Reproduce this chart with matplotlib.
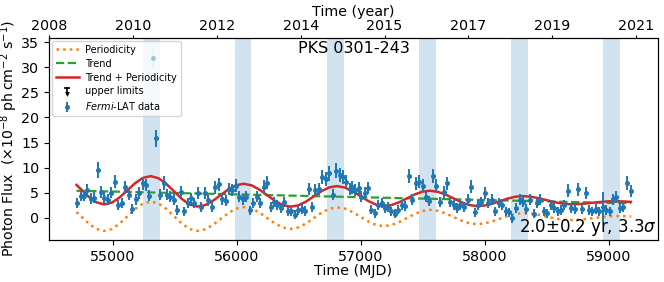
import numpy as np
import matplotlib
matplotlib.use("Agg")
import matplotlib.pyplot as plt
from matplotlib.lines import Line2D
from matplotlib.legend_handler import HandlerBase

# ---------------- data ----------------
mjd = [54707, 54740, 54766, 54793, 54820, 54847, 54877, 54903, 54930, 54960,
       54986, 55013, 55043, 55070, 55099, 55126, 55153, 55183, 55210, 55239,
       55266, 55293, 55347, 55379, 55408, 55435, 55462, 55489, 55516, 55545,
       55573, 55602, 55629, 55656, 55685, 55712, 55742, 55769, 55798, 55825,
       55852, 55879, 55909, 55935, 55962, 55992, 56019, 56046, 56075, 56105,
       56131, 56159, 56188, 56215, 56242, 56272, 56298, 56325, 56355, 56381,
       56411, 56438, 56465, 56494, 56522, 56548, 56578, 56605, 56631, 56661,
       56688, 56715, 56744, 56772, 56798, 56828, 56855, 56882, 56909, 56932,
       56957, 56984, 57005, 57032, 57059, 57086, 57113, 57140, 57167, 57194,
       57220, 57247, 57274, 57304, 57331, 57357, 57385, 57417, 57444, 57470,
       57498, 57524, 57551, 57583, 57610, 57637, 57669, 57696, 57723, 57750,
       57777, 57804, 57831, 57863, 57893, 57919, 57946, 57973, 58002, 58030,
       58059, 58086, 58113, 58140, 58169, 58196, 58223, 58256, 58282, 58309,
       58336, 58368, 58395, 58422, 58449, 58478, 58505, 58532, 58562, 58589,
       58615, 58643, 58672, 58699, 58728, 58756, 58782, 58815, 58841, 58868,
       58895, 58922, 58954, 58981, 59008, 59035, 59062, 59089, 59116, 59150,
       59180]
flux = [3.0, 4.4, 4.4, 5.6, 3.8, 4.0, 9.5, 5.2, 4.0, 3.6,
        5.0, 7.2, 2.6, 3.0, 6.1, 4.6, 1.7, 3.7, 4.9, 6.9,
        6.6, 4.4, 15.8, 4.6, 7.0, 4.6, 4.2, 3.6, 1.6, 5.2,
        1.3, 3.0, 3.9, 2.9, 4.9, 2.1, 4.9, 3.5, 2.1, 6.1,
        6.7, 3.7, 3.4, 5.7, 5.6, 6.4, 4.2, 3.7, 4.2, 1.5,
        2.9, 4.2, 2.9, 6.2, 7.0, 2.2, 3.2, 2.6, 1.9, 3.2,
        1.3, 1.3, 0.6, 1.6, 1.7, 1.3, 5.7, 2.2, 5.6, 5.7,
        8.2, 7.7, 8.9, 4.6, 9.4, 8.5, 8.2, 7.2, 5.7, 6.1,
        5.6, 5.9, 4.2, 4.9, 5.9, 1.6, 0.9, 2.6, 2.9, 1.9,
        2.2, 1.3, 0.8, 1.6, 2.6, 2.4, 8.3, 3.6, 6.9, 7.2,
        6.4, 4.2, 3.4, 8.3, 6.4, 3.2, 5.2, 6.9, 3.2, 2.6,
        1.9, 2.6, 2.2, 3.6, 6.2, 1.1, 2.6, 3.2, 5.0, 2.9,
        3.6, 1.3, 2.9, 2.6, 1.3, 1.1, -0.1, 1.9, 3.6, 3.2,
        1.7, 3.6, 0.8, 2.9, 3.6, 1.3, 0.9, 2.6, 1.9, 1.3,
        1.6, 2.6, 5.4, 1.9, 1.7, 5.7, 1.7, 4.9, 1.5, 1.3,
        1.7, 1.3, 2.1, 1.6, 1.3, 3.7, 4.2, 1.9, 2.1, 6.9,
        5.4]
flux_err = [1.0, 1.0, 1.0, 1.2, 1.1, 1.1, 1.6, 1.2, 1.1, 1.1,
            1.1, 1.3, 1.0, 1.0, 1.3, 1.1, 1.0, 1.1, 1.2, 1.3,
            1.2, 1.1, 1.7, 1.1, 1.4, 1.1, 1.1, 1.1, 1.0, 1.2,
            0.9, 1.0, 1.1, 1.0, 1.2, 1.0, 1.2, 1.1, 1.0, 1.3,
            1.3, 1.1, 1.1, 1.2, 1.2, 1.3, 1.1, 1.1, 1.1, 0.9,
            1.0, 1.1, 1.0, 1.3, 1.3, 1.0, 1.0, 1.0, 1.0, 1.0,
            0.9, 0.9, 0.9, 1.0, 1.0, 1.0, 1.2, 1.0, 1.2, 1.2,
            1.4, 1.4, 1.5, 1.1, 1.5, 1.4, 1.4, 1.3, 1.2, 1.3,
            1.2, 1.2, 1.1, 1.2, 1.2, 0.9, 0.9, 1.0, 1.0, 0.9,
            1.0, 0.9, 0.9, 0.9, 1.0, 1.0, 1.4, 1.1, 1.3, 1.3,
            1.3, 1.1, 1.0, 1.4, 1.3, 1.0, 1.2, 1.3, 1.0, 1.0,
            1.0, 1.0, 1.0, 1.1, 1.3, 0.9, 1.0, 1.0, 1.2, 1.0,
            1.1, 0.9, 1.0, 1.0, 0.9, 0.9, 0.9, 1.0, 1.1, 1.1,
            1.0, 1.1, 0.9, 1.0, 1.1, 0.9, 0.9, 1.0, 1.0, 0.9,
            1.0, 1.0, 1.3, 1.0, 1.0, 1.3, 1.0, 1.2, 1.0, 0.9,
            1.0, 0.9, 3.0, 1.0, 0.9, 1.1, 1.2, 1.0, 1.0, 1.4,
            1.2]

# outlier bin drawn faded
outlier_mjd = [55320]
outlier_flux = [31.8]
outlier_err = [2.0]

# model curves
model_mjd = [54705, 54740, 54803, 54865, 54928, 54991, 55053, 55116, 55179, 55241,
             55304, 55367, 55429, 55492, 55555, 55617, 55680, 55743, 55805, 55868,
             55931, 55993, 56056, 56119, 56181, 56244, 56307, 56369, 56432, 56495,
             56557, 56620, 56683, 56745, 56808, 56871, 56933, 56996, 57059, 57121,
             57184, 57247, 57309, 57372, 57435, 57497, 57560, 57623, 57685, 57748,
             57811, 57873, 57936, 57999, 58061, 58124, 58187, 58249, 58312, 58375,
             58437, 58500, 58563, 58625, 58688, 58751, 58813, 58876, 58939, 59001,
             59064, 59127, 59180]
periodicity = [1.15, 0.35, -1.13, -2.20, -2.60, -2.21, -1.14, 0.33, 1.79, 2.86,
               3.25, 2.86, 1.79, 0.33, -1.14, -2.21, -2.60, -2.28, -1.41, -0.22,
               0.96, 1.83, 2.15, 1.86, 1.06, -0.03, -1.11, -1.91, -2.20, -1.91,
               -1.13, -0.05, 1.03, 1.81, 2.10, 1.85, 1.16, 0.23, -0.71, -1.40,
               -1.65, -1.43, -0.84, -0.03, 0.79, 1.38, 1.60, 1.41, 0.89, 0.18,
               -0.54, -1.06, -1.25, -1.10, -0.70, -0.15, 0.40, 0.80, 0.95, 0.86,
               0.60, 0.25, -0.10, -0.36, -0.45, -0.40, -0.25, -0.05, 0.15, 0.30,
               0.35, 0.33, 0.28]
trend = [5.40, 5.38, 5.35, 5.31, 5.28, 5.24, 5.21, 5.17, 5.13, 5.10,
         5.06, 5.03, 4.99, 4.96, 4.92, 4.89, 4.85, 4.82, 4.78, 4.75,
         4.71, 4.68, 4.64, 4.61, 4.57, 4.54, 4.50, 4.47, 4.43, 4.40,
         4.36, 4.33, 4.29, 4.26, 4.22, 4.19, 4.15, 4.12, 4.08, 4.05,
         4.01, 3.98, 3.94, 3.91, 3.87, 3.84, 3.80, 3.77, 3.73, 3.70,
         3.66, 3.63, 3.59, 3.56, 3.52, 3.49, 3.45, 3.42, 3.38, 3.35,
         3.31, 3.28, 3.24, 3.21, 3.17, 3.14, 3.10, 3.07, 3.03, 3.00,
         2.96, 2.93, 2.90]

# shaded peak windows (MJD start, end)
band_start = [55242, 55984, 56725, 57468, 58210, 58952]
band_end = [55379, 56113, 56863, 57605, 58347, 59089]

# top axis ticks
year_tick_mjd = [54484, 55161, 55838, 56515, 57192, 57869, 58546, 59223]
year_tick_labels = ["2008", "2010", "2012", "2014", "2015", "2017", "2019", "2021"]


class UpperLimitHandler(HandlerBase):
    def create_artists(self, legend, orig_handle, xdescent, ydescent, width, height,
                       fontsize, trans):
        x = width / 2 - xdescent
        y0 = -ydescent + 0.0 * height
        y1 = -ydescent + 1.0 * height
        bar = Line2D([x, x], [y0, y1], color="k", lw=1.2)
        cap = Line2D([x], [y1], marker="_", ms=5, mew=1.2, color="k")
        arr = Line2D([x], [y0], marker="v", ms=3.5, color="k", mew=0)
        for a in (bar, cap, arr):
            a.set_transform(trans)
        return [bar, cap, arr]


# ---------------- plot ----------------
fig = plt.figure(figsize=(6.64, 2.82), dpi=100)
ax = fig.add_axes([0.0738, 0.149, 0.917, 0.718])

for s, e in zip(band_start, band_end):
    ax.axvspan(s, e, color="tab:blue", alpha=0.2, lw=0, zorder=0)

ax.plot(model_mjd, periodicity, ls=":", color="tab:orange", lw=1.8, label="Periodicity", zorder=3)
ax.plot(model_mjd, trend, ls="--", color="tab:green", lw=1.6, label="Trend", zorder=3)
total = np.array(trend) + np.array(periodicity)
ax.plot(model_mjd, total, ls="-", color="tab:red", lw=1.8, label="Trend + Periodicity", zorder=4)

ul_handle = Line2D([], [], color="k")
data_handle = ax.errorbar(mjd, flux, yerr=flux_err, fmt="o", color="tab:blue", ms=2.6,
                          elinewidth=1.4, zorder=5)
ax.errorbar(outlier_mjd, outlier_flux, yerr=outlier_err, fmt="o", color="tab:blue",
            ms=2.6, elinewidth=1.4, alpha=0.3, zorder=5)

ax.set_xlim(54483, 59398)
ax.set_ylim(-4.4, 35.9)
ax.set_xticks([55000, 56000, 57000, 58000, 59000])
ax.set_yticks([0, 5, 10, 15, 20, 25, 30, 35])
ax.tick_params(labelsize=10.3)
ax.set_xlabel("Time (MJD)", fontsize=10.3, labelpad=0)
ax.set_ylabel(r"Photon Flux  ($\times 10^{-8}$ ph$\,$cm$^{-2}$ s$^{-1}$)", fontsize=10.2)
ax.yaxis.set_label_coords(-0.047, 0.5)

ax.text(0.5, 0.985, "PKS 0301-243", transform=ax.transAxes, ha="center", va="top", fontsize=11.5)
ax.text(0.999, 0.01, r"2.0$\pm$0.2 yr, 3.3$\sigma$", transform=ax.transAxes, ha="right",
        va="bottom", fontsize=12)

handles, labels = ax.get_legend_handles_labels()
handles += [ul_handle, data_handle]
labels += ["upper limits", r"$\it{Fermi}$-LAT data"]
leg = ax.legend(handles, labels, loc="upper left", fontsize=7, frameon=True, handlelength=2.3,
                borderaxespad=0.35, labelspacing=0.4, handletextpad=0.7,
                handler_map={ul_handle: UpperLimitHandler()})

ax2 = ax.twiny()
ax2.set_xlim(ax.get_xlim())
ax2.set_xticks(year_tick_mjd)
ax2.set_xticklabels(year_tick_labels)
ax2.tick_params(labelsize=10.3, pad=1.0, length=2.5)
ax2.set_xlabel("Time (year)", fontsize=10.3, labelpad=2)

fig.savefig("out.png", dpi=100)
